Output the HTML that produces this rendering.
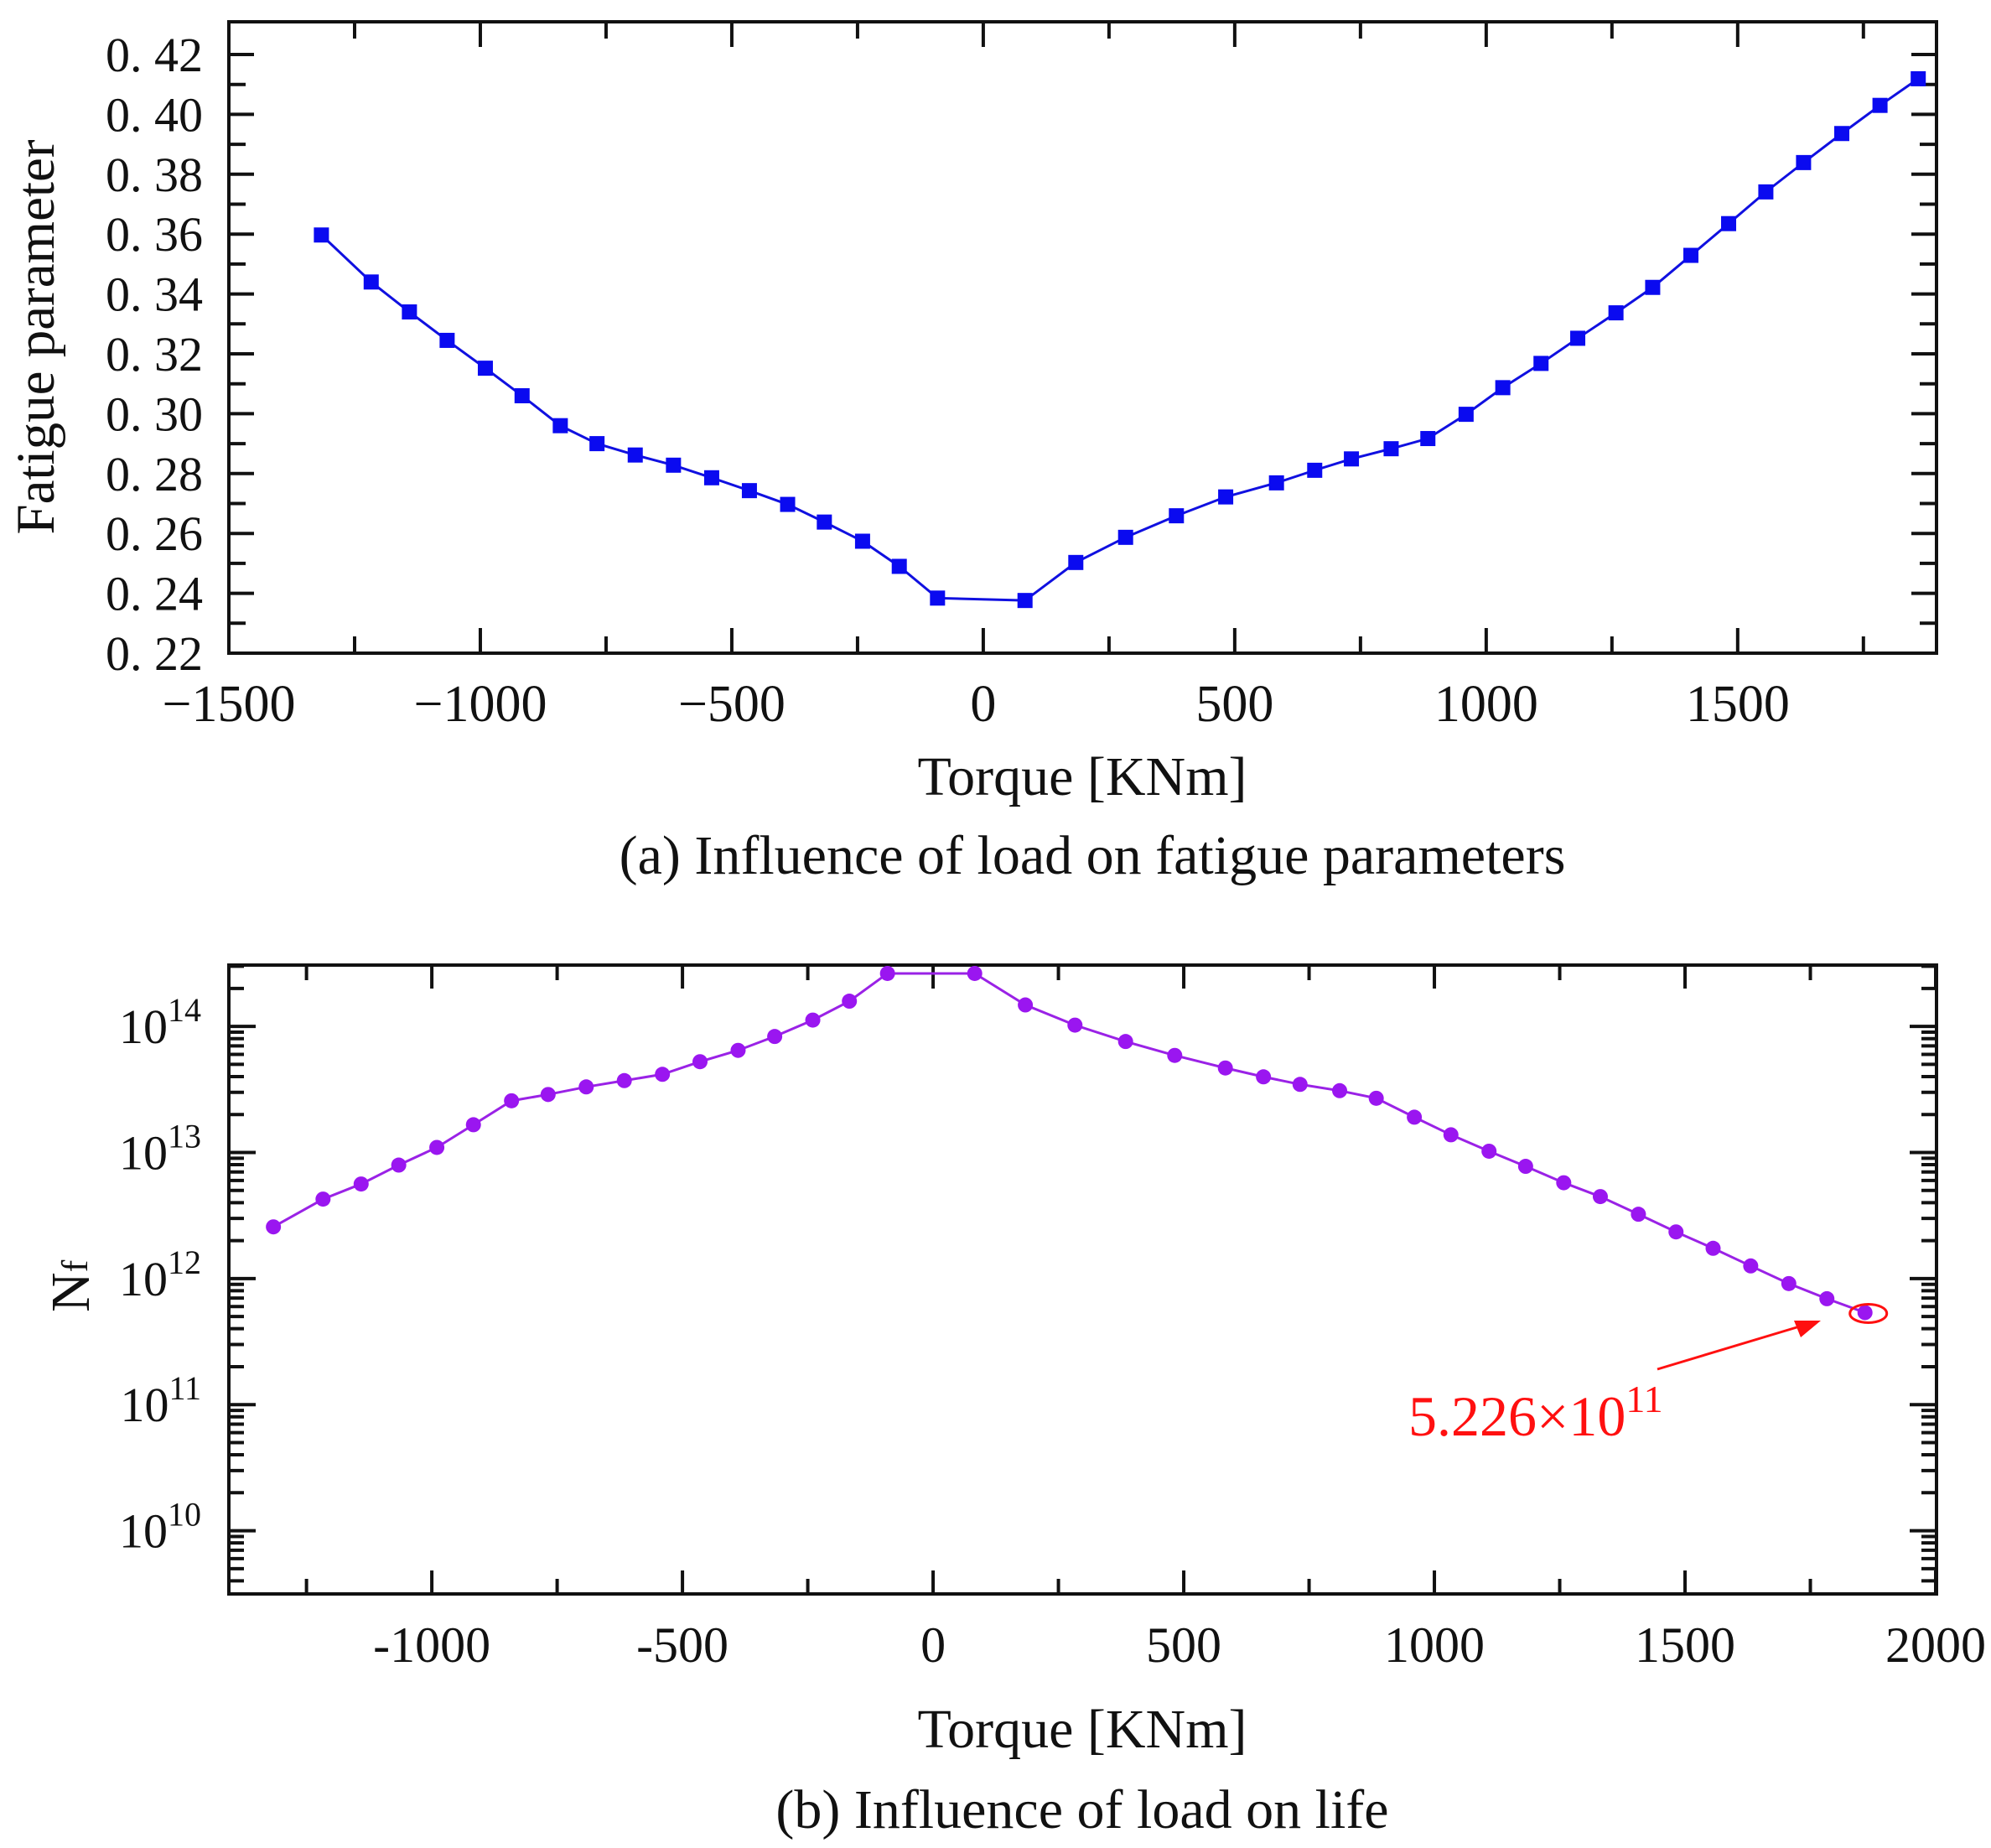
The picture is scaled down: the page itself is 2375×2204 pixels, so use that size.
<!DOCTYPE html>
<html><head><meta charset="utf-8"><style>
html,body{margin:0;padding:0;background:#fff;}
svg{display:block;}
text{font-family:"Liberation Serif","Noto Serif CJK SC",serif;fill:#111;}
</style></head>
<body>
<svg id="fig" width="2375" height="2204" viewBox="0 0 2375 2204" xmlns="http://www.w3.org/2000/svg"></svg>
<script>
const torque=[-1316,-1217,-1141,-1066,-990,-917,-841,-768,-692,-616,-540,-465,-389,-316,-240,-167,-91,83,184,283,384,482,583,659,732,811,884,960,1033,1109,1182,1258,1331,1407,1482,1556,1631,1707,1783,1859];
const fatigue=[0.3597,0.3440,0.3340,0.3245,0.3152,0.3060,0.2960,0.2900,0.2862,0.2828,0.2786,0.2743,0.2697,0.2638,0.2574,0.2490,0.2384,0.2376,0.2503,0.2587,0.2659,0.2722,0.2769,0.2811,0.2849,0.2883,0.2917,0.2998,0.3087,0.3168,0.3252,0.3337,0.3422,0.3529,0.3635,0.3741,0.3839,0.3936,0.4030,0.4119];
const logLife=[12.41,12.63,12.75,12.90,13.04,13.22,13.41,13.46,13.52,13.57,13.62,13.72,13.81,13.92,14.05,14.20,14.42,14.42,14.17,14.01,13.88,13.77,13.67,13.60,13.54,13.49,13.43,13.28,13.14,13.01,12.89,12.76,12.65,12.51,12.37,12.24,12.10,11.96,11.84,11.73];
const topYTicks=["0. 22","0. 24","0. 26","0. 28","0. 30","0. 32","0. 34","0. 36","0. 38","0. 40","0. 42"];
const topXTicks=[-1500,-1000,-500,0,500,1000,1500];
const botXTicks=[-1000,-500,0,500,1000,1500,2000];
const botYTicks=[10,11,12,13,14];

const NS="http://www.w3.org/2000/svg";
const svg=document.getElementById('fig');
function el(tag,attrs,parent){const e=document.createElementNS(NS,tag);for(const k in attrs)e.setAttribute(k,attrs[k]);(parent||svg).appendChild(e);return e;}

// ---------- top chart ----------
const T={l:273,r:2310,t:26,b:779};
function txf(v){return 273+(v+1500)*(1368-180)*1.515/3000;}
function tyf(v){return 65+(0.42-v)*(779-65)/0.2;}
const gTop=el('g',{});


for(let v=0.22;v<=0.4251;v+=0.01){const y=tyf(v);const major=Math.round(v*100)%2===0;const L=major?30:20;
 el('line',{x1:T.l,y1:y,x2:T.l+L,y2:y,stroke:'#111','stroke-width':4},gTop);
 el('line',{x1:T.r,y1:y,x2:T.r-L,y2:y,stroke:'#111','stroke-width':4},gTop);}
for(let v=-1500;v<=1897;v+=250){const x=txf(v);const major=v%500===0;const L=major?30:20;
 el('line',{x1:x,y1:T.b,x2:x,y2:T.b-L,stroke:'#111','stroke-width':4},gTop);
 el('line',{x1:x,y1:T.t,x2:x,y2:T.t+L,stroke:'#111','stroke-width':4},gTop);}
el('rect',{x:T.l,y:T.t,width:T.r-T.l,height:T.b-T.t,fill:'none',stroke:'#111','stroke-width':4},gTop);
topYTicks.forEach((s,i)=>{const t=el('text',{x:242,y:tyf(0.22+0.02*i)+20,'text-anchor':'end','font-size':58},gTop);t.textContent=s;
 });
topXTicks.forEach(v=>{const t=el('text',{x:txf(v),y:860,'text-anchor':'middle','font-size':62},gTop);t.textContent=(v<0?'\u2212':'')+Math.abs(v);
 });
let pts=torque.map((v,i)=>txf(v)+','+tyf(fatigue[i])).join(' ');
const l1=el('polyline',{points:pts,fill:'none',stroke:'#1010e0','stroke-width':3},gTop);

torque.forEach((v,i)=>{const m=el('rect',{x:txf(v)-9,y:tyf(fatigue[i])-9,width:18,height:18,fill:'#0a0af0'},gTop);
 });
let t1=el('text',{x:1291,y:948,'text-anchor':'middle','font-size':66},gTop);t1.textContent='Torque [KNm]';

let t2=el('text',{x:0,y:0,'text-anchor':'middle','font-size':65,transform:'translate(64,402) rotate(-90)'},gTop);t2.textContent='Fatigue parameter';

let c1=el('text',{x:1303,y:1042,'text-anchor':'middle','font-size':66},gTop);c1.textContent='(a) Influence of load on fatigue parameters';


// ---------- bottom chart ----------
const B={l:273,r:2310,t:1151,b:1901};
function bxf(v){return (734.7+v*0.3947)*1.515;}
function byf(lg){return (808-(lg-14)*99.25)*1.515;}
const gB=el('g',{});


for(let d=9;d<=14;d++){for(let k=1;k<10;k++){const lg=d+Math.log10(k);const y=byf(lg);if(y<B.t||y>B.b)continue;const L=k===1?32:18;
 el('line',{x1:B.l,y1:y,x2:B.l+L,y2:y,stroke:'#111','stroke-width':4},gB);
 el('line',{x1:B.r,y1:y,x2:B.r-L,y2:y,stroke:'#111','stroke-width':4},gB);}}
for(let v=-1250;v<=2000;v+=250){const x=bxf(v);const major=v%500===0;const L=major?28:18;
 el('line',{x1:x,y1:B.b,x2:x,y2:B.b-L,stroke:'#111','stroke-width':4},gB);
 el('line',{x1:x,y1:B.t,x2:x,y2:B.t+L,stroke:'#111','stroke-width':4},gB);}
el('rect',{x:B.l,y:B.t,width:B.r-B.l,height:B.b-B.t,fill:'none',stroke:'#111','stroke-width':4},gB);
botYTicks.forEach(d=>{const t=el('text',{x:240,y:byf(d)+20,'text-anchor':'end','font-size':58},gB);t.textContent='10';
 const s=el('tspan',{dy:-26,'font-size':40},t);s.textContent=String(d);
 });
botXTicks.forEach(v=>{const t=el('text',{x:bxf(v),y:1982,'text-anchor':'middle','font-size':60},gB);t.textContent=String(v);
 });
pts=torque.map((v,i)=>bxf(v)+','+byf(logLife[i])).join(' ');
const l2=el('polyline',{points:pts,fill:'none',stroke:'#9a22e6','stroke-width':3},gB);

torque.forEach((v,i)=>{const m=el('circle',{cx:bxf(v),cy:byf(logLife[i]),r:9,fill:'#9a16f0'},gB);
 });
const li=torque.length-1;const ax=bxf(torque[li]),ay=byf(logLife[li]);
const ell=el('ellipse',{cx:ax+4,cy:ay+1,rx:22,ry:11,fill:'none',stroke:'#ff1010','stroke-width':3},gB);

const arr=el('line',{x1:1977,y1:1633,x2:2150,y2:1581,stroke:'#ff1010','stroke-width':3},gB);

el('polygon',{points:'2172,1575 2140,1575 2148,1595',fill:'#ff1010'},gB);
const an=el('text',{x:1680,y:1712,'font-size':68,style:'fill:#ff1010'},gB);an.textContent='5.226×10';
const as=el('tspan',{dy:-28,'font-size':46,style:'fill:#ff1010'},an);as.textContent='11';

let t3=el('text',{x:1291,y:2084,'text-anchor':'middle','font-size':66},gB);t3.textContent='Torque [KNm]';

let t4=el('text',{x:0,y:0,'font-size':66,transform:'translate(106,1565) rotate(-90)'},gB);t4.textContent='N';
const t4s=el('tspan',{dy:-2,'font-size':44},t4);t4s.textContent='f';

let c2=el('text',{x:1291,y:2180,'text-anchor':'middle','font-size':66},gB);c2.textContent='(b) Influence of load on life';

</script>
</body></html>
